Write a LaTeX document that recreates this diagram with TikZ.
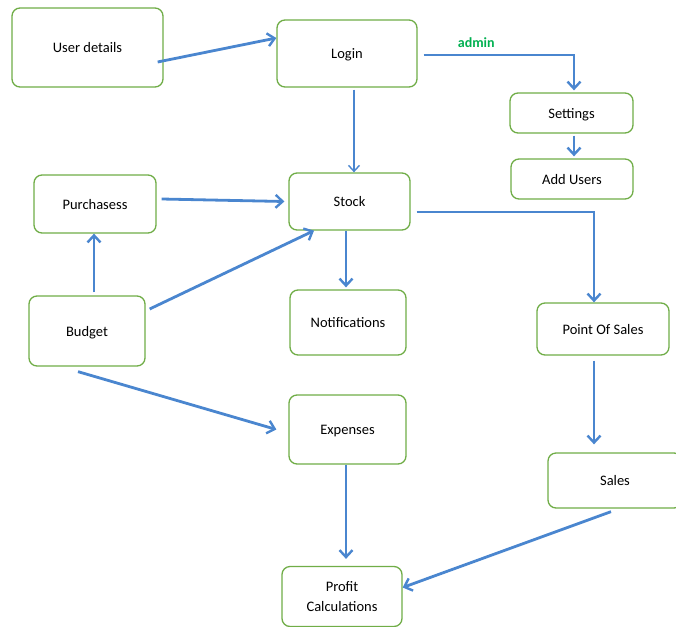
\documentclass[tikz,border=0pt]{standalone}
\usepackage{fontspec}
\setmainfont{Carlito}
\usetikzlibrary{arrows.meta}
\definecolor{boxgreen}{RGB}{112,173,71}
\definecolor{arrowblue}{RGB}{74,134,207}
\definecolor{admingreen}{RGB}{0,176,80}
\tikzset{
  box/.style={draw=boxgreen, line width=1.3pt, rounded corners=8pt, fill=white,
    minimum width=#1, align=center, font=\fontsize{14.5}{20}\selectfont, inner sep=0pt},
  oneline/.style={text height=12pt, text depth=2pt},
  flow/.style={draw=arrowblue, line width=2.8pt, -{Straight Barb[length=7pt,width=13pt,line width=2.4pt]}},
  thinflow/.style={draw=arrowblue, line width=1.4pt, -{Straight Barb[length=6pt,width=11pt,line width=1.4pt]}},
  lbl/.style={font=\bfseries\fontsize{14}{16}\selectfont, text=admingreen}
}
\begin{document}
\begin{tikzpicture}[x=1pt,y=-1pt]
\useasboundingbox (0,0) rectangle (676,626);
\node[box=151pt, oneline, minimum height=79pt] (ud) at (87.5,47.5) {User details};
\node[box=140pt, oneline, minimum height=67pt] (login) at (347,53.5) {Login};
\node[box=123pt, oneline, minimum height=40pt] (settings) at (571.5,113) {Settings};
\node[box=122pt, oneline, minimum height=40pt] (addusers) at (572,179) {Add Users};
\node[box=122pt, oneline, minimum height=58pt] (purch) at (95,204) {Purchasess};
\node[box=121pt, oneline, minimum height=57pt] (stock) at (349.5,201.5) {Stock};
\node[box=116pt, oneline, minimum height=70pt] (budget) at (87,331) {Budget};
\node[box=116pt, oneline, minimum height=65pt] (notif) at (348,322.5) {Notifications};
\node[box=132pt, oneline, minimum height=52pt] (pos) at (603,329) {Point Of Sales};
\node[box=117pt, oneline, minimum height=69pt] (expenses) at (347.5,429.5) {Expenses};
\node[box=134pt, oneline, minimum height=55pt] (sales) at (615,480.5) {Sales};
\node[box=120pt, minimum height=60pt] (profit) at (342,596.5) {Profit\\Calculations};

\draw[flow] ([xshift=-6pt,yshift=-14.5pt]ud.east) -- ([yshift=15.5pt]login.west);
\draw[flow] ([xshift=6pt,yshift=-1.5pt]login.east) -| node[lbl, pos=0.175, above=3pt] {admin} ([xshift=2.5pt,yshift=2pt]settings.north);
\draw[thinflow] ([xshift=7pt,yshift=-2pt]login.south) -- ([xshift=4.5pt]stock.north);
\draw[flow] ([xshift=2.5pt,yshift=-2pt]settings.south) -- ([xshift=2pt,yshift=2pt]addusers.north);
\draw[flow] ([xshift=5pt,yshift=5pt]purch.east) -- ([xshift=-4pt]stock.west);
\draw[flow] ([xshift=7pt,yshift=3pt]budget.north) -- ([xshift=-1pt]purch.south);
\draw[flow] ([xshift=4pt,yshift=22pt]budget.east) -- ([xshift=-35.5pt]stock.south);
\draw[flow] ([xshift=-3.5pt]stock.south) -- ([xshift=-2pt,yshift=2pt]notif.north);
\draw[flow] ([xshift=6pt,yshift=-10.5pt]stock.east) -| ([xshift=-9pt]pos.north);
\draw[flow] ([xshift=-9pt,yshift=-5pt]budget.south) -- ([xshift=-12pt]expenses.west);
\draw[flow] ([xshift=-9pt,yshift=-5pt]pos.south) -- ([xshift=-21pt,yshift=8pt]sales.north);
\draw[flow] ([xshift=-1.5pt]expenses.south) -- ([xshift=4pt,yshift=7pt]profit.north);
\draw[flow] ([xshift=-4pt,yshift=-3pt]sales.south) -- ([yshift=9pt]profit.east);
\end{tikzpicture}
\end{document}
